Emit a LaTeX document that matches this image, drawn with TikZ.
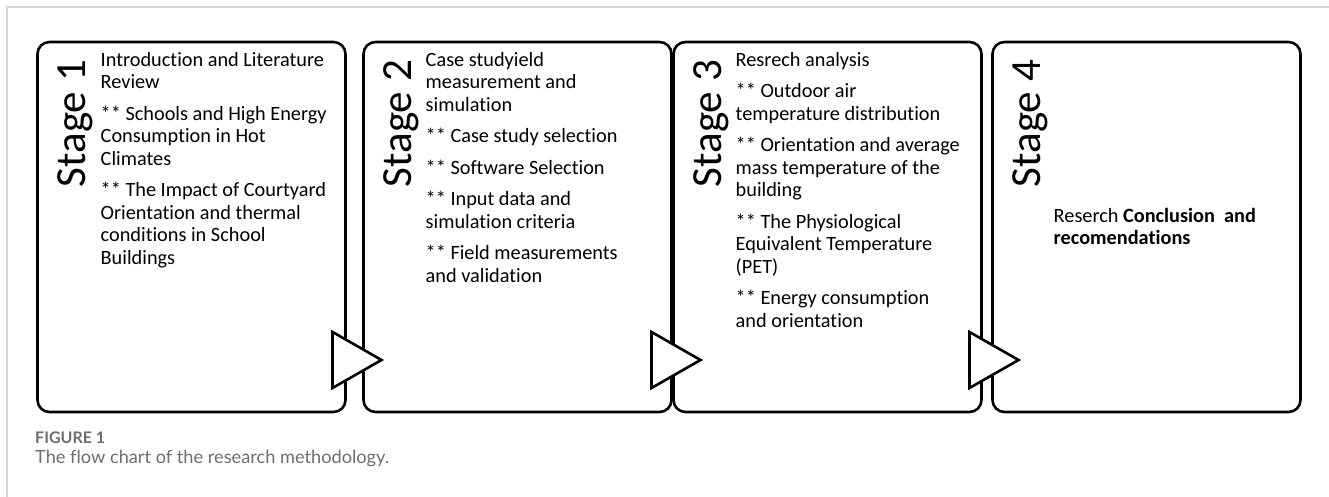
\documentclass[tikz,border=0pt]{standalone}
\usepackage{fontspec}
\setmainfont{Carlito}[Ligatures=NoCommon]
\newfontfamily\capfont{Lato}[Ligatures=NoCommon]
\usepackage{xcolor}
\usetikzlibrary{positioning}
\definecolor{capgray}{HTML}{6E6E6E}
\definecolor{framegray}{HTML}{D6D6D6}

\begin{document}
\begin{tikzpicture}[x=1pt, y=1pt,
  stagebox/.style={draw, line width=2.6pt, rounded corners=12pt, outer sep=0pt,
    minimum width=308pt, minimum height=370pt, inner sep=0pt},
  stagelabel/.style={rotate=90, anchor=base east, inner sep=0pt,
    font=\fontsize{43}{50}\selectfont},
  stagetext/.style={anchor=north west, inner sep=0pt, align=left,
    font=\fontsize{20.3}{22.5}\selectfont},
  pointer/.style={draw, fill=white, line width=2.6pt, line join=miter}]
\useasboundingbox (0,0) rectangle (1329,497);
\draw[framegray, line width=1.2pt] (7,0) -- (7,490) -- (1329,490);

% the four stages
\node[stagebox] (b1) at (191.5,270) {};
\node[stagebox, right=18pt of b1] (b2) {};
\node[stagebox, right=2pt of b2] (b3) {};
\node[stagebox, right=11pt of b3] (b4) {};

\foreach \i in {1,...,4}
  \node[stagelabel] (s\i) at ([shift={(48,-18)}]b\i.north west) {Stage \i};

\node[stagetext] (t1) at ([shift={(63,-10)}]b1.north west)
  {Introduction and Literature\\ Review\\[9pt]
   ** Schools and High Energy\\ Consumption in Hot\\ Climates\\[9pt]
   ** The Impact of Courtyard\\ Orientation and thermal\\ conditions in School\\ Buildings};
\node[stagetext] (t2) at ([shift={(62,-10)}]b2.north west)
  {Case studyield\\ measurement and\\ simulation\\[9pt]
   ** Case study selection\\[9pt]
   ** Software Selection\\[9pt]
   ** Input data and\\ simulation criteria\\[9pt]
   ** Field measurements\\ and validation};
\node[stagetext] (t3) at ([shift={(62,-10)}]b3.north west)
  {Resrech analysis\\[9pt]
   ** Outdoor air\\ temperature distribution\\[9pt]
   ** Orientation and average\\ mass temperature of the\\ building\\[9pt]
   ** The Physiological\\ Equivalent Temperature\\ (PET)\\[9pt]
   ** Energy consumption\\ and orientation};
\node[stagetext] (t4) at ([shift={(61,-166)}]b4.north west)
  {Reserch \textbf{Conclusion\ \ and}\\ \textbf{recomendations}};

% hand-over arrows between the stages
\foreach \b/\dx in {b1/-13, b2/-20, b3/-12}
  \draw[pointer] ([shift={(\dx,80)}]\b.south east) -- ([shift={(\dx+49,52)}]\b.south east)
    -- ([shift={(\dx,24)}]\b.south east) -- cycle;

% caption
\node[anchor=west, inner sep=0pt, text=capgray, font=\capfont\bfseries\fontsize{16}{18}\selectfont]
  (fig) at (35,59) {FIGURE 1};
\node[anchor=west, inner sep=0pt, text=capgray, font=\capfont\fontsize{18.2}{21}\selectfont]
  (cap) at (35,39) {The flow chart of the research methodology.};
\end{tikzpicture}
\end{document}
